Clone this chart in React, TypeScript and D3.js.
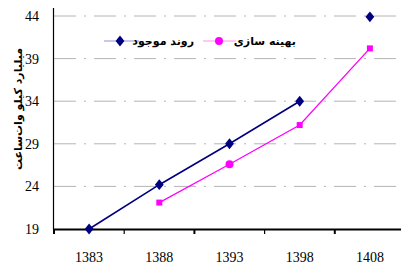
import * as d3 from 'd3';
import React from 'react';

const years = ['1383', '1388', '1393', '1398', '1408'];
const yTicks = [19, 24, 29, 34, 39, 44];
// روند موجود
const trend: (number | null)[] = [19, 24.2, 29, 34, 43.9];
// بهینه سازی
const optimized: (number | null)[] = [null, 22.1, 26.6, 31.2, 40.2];
const trendName = 'روند موجود';
const optName = 'بهینه سازی';
const axisTitle = 'میلیارد کیلو وات‌ساعت';

const W = 401;
const H = 264;
const NAVY = '#000080';
const PINK = '#ff00ff';
const SERIF = "'Liberation Serif', 'DejaVu Serif', serif";

const App = () => {
  const x = d3.scaleBand().domain(years).range([54, 405]).padding(0);
  const y = d3.scaleLinear().domain([19, 44]).range([229, 16]);
  const cx = (d: string) => (x(d) as number) + x.bandwidth() / 2;

  const pts = (vals: (number | null)[]) =>
    years.map((yr, i) => ({ yr, v: vals[i] })).filter(p => p.v != null) as { yr: string; v: number }[];

  const line = d3.line<{ yr: string; v: number }>().x(p => cx(p.yr)).y(p => y(p.v));

  const trendPts = pts(trend);
  const optPts = pts(optimized);
  // the last trend point stands alone, no connecting segment
  const trendLine = trendPts.slice(0, 4);

  const diamond = d3.symbol().type(d3.symbolDiamond).size(34)();
  const square = d3.symbol().type(d3.symbolSquare).size(36)();
  const circle = d3.symbol().type(d3.symbolCircle).size(50)();

  return (
    <svg width={W} height={H} style={{ position: 'absolute', left: 0, top: 0, background: '#fff' }}>
      {/* grid */}
      {yTicks.filter(t => t !== 19).map(t => (
        <line key={t} x1={54} x2={405} y1={y(t)} y2={y(t)} stroke="#b4b4b4" strokeWidth={1} strokeDasharray="22,8,2,8" />
      ))}
      {/* axes */}
      <line x1={53.5} x2={53.5} y1={8} y2={230} stroke="#000" strokeWidth={1.2} />
      <line x1={53} x2={405} y1={229.5} y2={229.5} stroke="#000" strokeWidth={1.8} />
      {[...years.map(d => x(d) as number), 405].map((t, i) => (
        <line key={i} x1={t} x2={t} y1={229} y2={234} stroke="#000" strokeWidth={i % 2 === 0 ? 2 : 1.2} />
      ))}
      {yTicks.map(t => (
        <text key={t} x={39} y={y(t) + 5} textAnchor="end" fontFamily={SERIF} fontSize={14} fill="#000">{t}</text>
      ))}
      {years.map(d => (
        <text key={d} x={cx(d)} y={262} textAnchor="middle" fontFamily={SERIF} fontSize={14} fill="#000">{d}</text>
      ))}
      <text transform="translate(22,109) rotate(-90)" textAnchor="middle" fontFamily="DejaVu Sans" fontWeight="bold" fontSize={11} fill="#000">{axisTitle}</text>

      {/* series */}
      <path d={line(trendLine) || ''} fill="none" stroke={NAVY} strokeWidth={1.6} />
      <path d={line(optPts) || ''} fill="none" stroke={PINK} strokeWidth={1.3} />
      {trendPts.map(p => (
        <path key={p.yr} d={diamond || ''} transform={`translate(${cx(p.yr)},${y(p.v)}) scale(1.4,1)`} fill={NAVY} />
      ))}
      {optPts.map(p => (
        <path key={p.yr} d={(p.yr === '1393' ? circle : square) || ''} transform={`translate(${cx(p.yr)},${y(p.v)})`} fill={PINK} />
      ))}

      {/* legend */}
      <line x1={104} x2={139} y1={41} y2={41} stroke="#c8c8ee" strokeWidth={2} />
      <path d={diamond || ''} transform="translate(120,41) scale(1.4,1)" fill={NAVY} />
      <text x={194} y={45} textAnchor="end" fontFamily="DejaVu Sans" fontWeight="bold" fontSize={11} fill="#000">{trendName}</text>
      <line x1={203} x2={236} y1={41} y2={41} stroke="#ffc8f5" strokeWidth={2} />
      <path d={circle || ''} transform="translate(219,41)" fill={PINK} />
      <text x={296} y={45} textAnchor="end" fontFamily="DejaVu Sans" fontWeight="bold" fontSize={11} fill="#000">{optName}</text>
    </svg>
  );
};

export default App;
